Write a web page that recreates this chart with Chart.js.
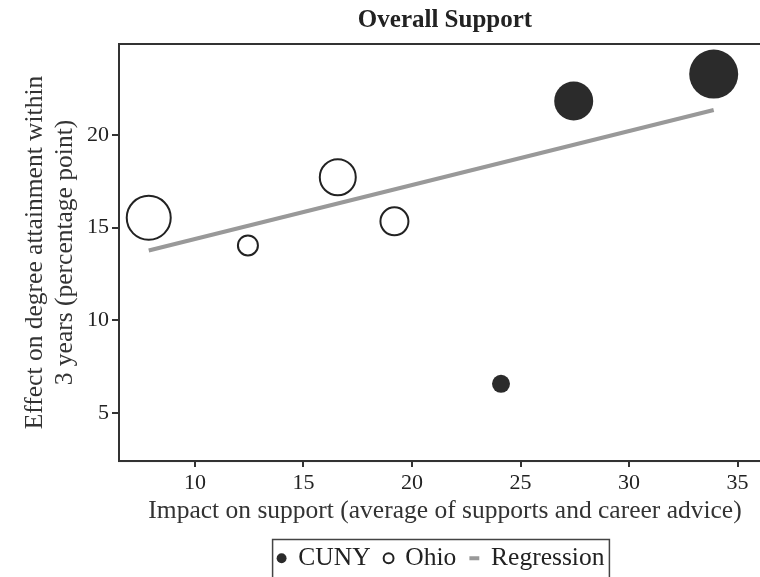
<!DOCTYPE html>
<html>
<head>
<meta charset="utf-8">
<script src="https://cdn.jsdelivr.net/npm/chart.js@4/dist/chart.umd.min.js"></script>
<style>
  html, body { margin: 0; padding: 0; background: #fff; overflow: hidden; }
  #wrap { width: 885px; height: 577px; }
</style>
</head>
<body>
<div id="wrap"><canvas id="chart" width="885" height="577"></canvas></div>
<script>
const serif = "'Liberation Serif', 'Times New Roman', serif";

// Impact on support (x), effect on attainment (y), bubble size (r)
const cunyX = [24.1, 27.45, 33.9];
const cunyY = [6.58, 21.83, 23.28];
const cunyR = [9, 19.5, 24.5];

const ohioX = [7.87, 12.44, 16.58, 19.19];
const ohioY = [15.53, 14.04, 17.72, 15.34];
const ohioR = [22, 10, 18, 14];

const regX = [7.87, 33.9];
const regY = [13.77, 21.34];

const xTicks = [10, 15, 20, 25, 30, 35];
const yTicks = [5, 10, 15, 20];

const toPoints = (xs, ys, rs) => xs.map((x, i) => rs ? { x, y: ys[i], r: rs[i] } : { x, y: ys[i] });

// title and legend are centred over the plot area, not the whole canvas
const centerPlugin = {
    id: "centerPlugin",
    afterUpdate: (chart) => {
        const area = chart.chartArea;
        const mid = (area.left + area.right) / 2;
        const title = chart.titleBlock;
        if (title) {
            const dx = mid - (title.left + title.right) / 2;
            title.left += dx;
            title.right += dx;
        }
        const legend = chart.legend;
        if (legend) {
            const dx = mid - (legend.left + legend.right) / 2 - 4;
            const dy = 4;
            legend.left += dx;
            legend.right += dx;
            legend.top += dy;
            legend.bottom += dy;
            legend.legendHitBoxes.forEach(b => { b.left += dx; b.top += dy; });
        }
    }
};

// box around the plot area and the legend
const framePlugin = {
    id: "framePlugin",
    afterDraw: (chart) => {
        const { ctx, chartArea: { left, right, top, bottom } } = chart;
        ctx.save();
        ctx.strokeStyle = "#333";
        ctx.lineWidth = 2;
        ctx.strokeRect(left, top, right - left, bottom - top);

        const boxes = chart.legend.legendHitBoxes;
        if (boxes.length) {
            const first = boxes[0];
            const last = boxes[boxes.length - 1];
            const x0 = first.left - 5;
            const x1 = last.left + last.width + 5;
            const y0 = first.top - 6;
            ctx.strokeStyle = "#444";
            ctx.lineWidth = 1.5;
            ctx.strokeRect(x0, y0, x1 - x0, 40);
        }
        ctx.restore();
    }
};

new Chart(document.getElementById("chart"), {
    type: "bubble",
    data: {
        datasets: [
            { label: "CUNY", data: toPoints(cunyX, cunyY, cunyR), backgroundColor: "#2b2b2b", borderColor: "#2b2b2b", borderWidth: 0, order: 1 },
            { label: "Ohio", data: toPoints(ohioX, ohioY, ohioR), backgroundColor: "#fff", borderColor: "#222", borderWidth: 2, order: 1 },
            { type: "line", label: "Regression", data: toPoints(regX, regY), borderColor: "#999", borderWidth: 4,
              pointRadius: 0, pointStyle: "line", pointBorderWidth: 4, pointBorderColor: "#999", order: 2 }
        ]
    },
    plugins: [centerPlugin, framePlugin],
    options: {
        responsive: false,
        animation: false,
        layout: { padding: { left: 0, right: 114, top: 0, bottom: 0 } },
        plugins: {
            title: {
                display: true, text: "Overall Support", color: "#222",
                font: { family: serif, size: 25, weight: "bold", lineHeight: 1.2 },
                padding: { top: 6, bottom: 8 }
            },
            legend: {
                position: "bottom",
                labels: {
                    usePointStyle: true, boxHeight: 7, boxWidth: 8, padding: 14,
                    color: "#222", font: { family: serif, size: 25.5 }
                }
            },
            tooltip: { enabled: false }
        },
        scales: {
            x: {
                type: "linear", min: 6.5, max: 36.54,
                afterBuildTicks: (scale) => { scale.ticks = xTicks.map(v => ({ value: v })); },
                afterFit: (scale) => { scale.height -= 2; },
                grid: { display: true, drawOnChartArea: false, tickLength: 6, color: "#333", lineWidth: 2 },
                border: { display: true, color: "#333", width: 2 },
                ticks: { color: "#222", padding: 3, font: { family: serif, size: 22 } },
                title: {
                    display: true, text: "Impact on support (average of supports and career advice)",
                    color: "#333", font: { family: serif, size: 25.5, lineHeight: 1.1 }, padding: { top: 0, bottom: 2 }
                }
            },
            y: {
                type: "linear", min: 2.42, max: 24.9,
                afterBuildTicks: (scale) => { scale.ticks = yTicks.map(v => ({ value: v })); },
                afterFit: (scale) => { scale.width = 119; },
                grid: { display: true, drawOnChartArea: false, tickLength: 7, color: "#333", lineWidth: 2 },
                border: { display: true, color: "#333", width: 2 },
                ticks: { color: "#222", padding: 3, font: { family: serif, size: 22 } },
                title: {
                    display: true, text: ["Effect on degree attainment within", "3 years (percentage point)"],
                    color: "#333", font: { family: serif, size: 25.5, lineHeight: 1.18 }, padding: { top: 20, bottom: 0 }
                }
            }
        }
    }
});
</script>
</body>
</html>
